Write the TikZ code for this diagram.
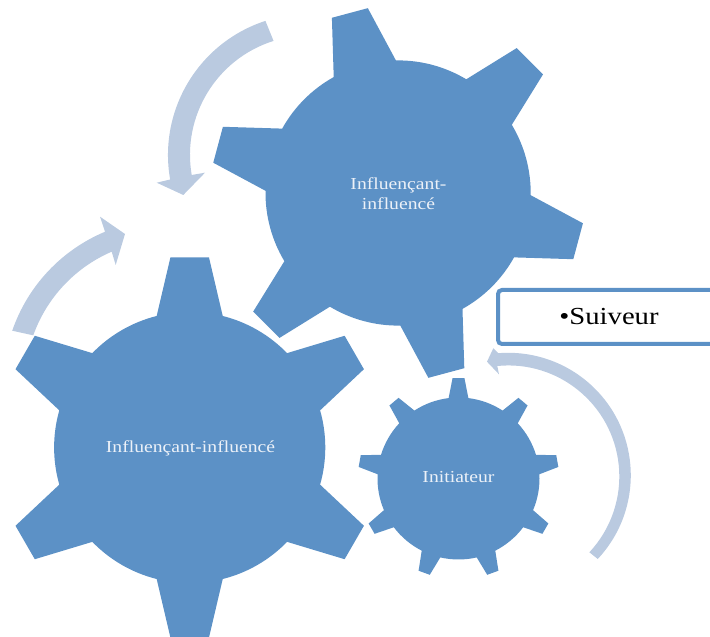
\documentclass[tikz,border=0pt]{standalone}
\usepackage{fontspec}
\setmainfont{Liberation Serif}
\newfontfamily\widefont[FakeStretch=1.17]{Liberation Serif}
\definecolor{gearblue}{RGB}{92,145,198}
\definecolor{arrowblue}{RGB}{186,202,224}
\definecolor{geartext}{RGB}{236,241,248}
\tikzset{
  gearfill/.style={fill=gearblue,draw=none},
  arrowfill/.style={fill=arrowblue,draw=none},
  geartextstyle/.style={text=geartext,font=\widefont\fontsize{16.8}{19.5}\selectfont,align=center,inner sep=0pt},
  boxstyle/.style={draw=gearblue,line width=4pt,fill=white,rounded corners=4pt,inner sep=0pt,minimum width=240pt,minimum height=54pt},
  boxtext/.style={text=black,font=\widefont\fontsize{24.5}{28}\selectfont,inner sep=0pt}
}
% centre x, centre y, teeth, first tooth angle, root half angle, tip half angle, root radius, tip radius
\newcommand{\gearshape}[8]{%
  \fill[gearfill,shift={(#1pt,#2pt)}] ({#4-#5}:#7pt)
    \foreach \i [evaluate=\i as \t using {#4+(\i-1)*360/#3}] in {1,...,#3} {
      -- ({\t-#6}:#8pt) -- ({\t+#6}:#8pt) -- ({\t+#5}:#7pt)
      arc[start angle={\t+#5},end angle={\t+360/#3-#5},radius=#7pt]
    } -- cycle;
}
\begin{document}
\begin{tikzpicture}[x=1pt,y=1pt]
\useasboundingbox (0,0) rectangle (710,637);
\clip (0,0) rectangle (710,637);
% arrows
\fill[arrowfill] ([shift={(309,482)}]108:141pt) arc[start angle=108,end angle=190,radius=141pt]
  -- (156.7,454.3) -- (183.3,442) -- (205,464.3) -- (191.7,462)
  arc[start angle=189.7,end angle=107.5,radius=119.5pt] -- cycle;
\fill[arrowfill] ([shift={(169,252.3)}]161:165.8pt) arc[start angle=161,end angle=112.7,radius=165.8pt]
  -- (100,420.3) -- (125,403) -- (115.7,372) -- (111.7,385.3)
  arc[start angle=113.3,end angle=160.4,radius=143.5pt] -- cycle;
\fill[arrowfill] ([shift={(508.3,161.7)}]-43.1:122.5pt) arc[start angle=-43.1,end angle=94.7,radius=122.5pt]
  -- (493.3,288.7) -- (487,275.3) -- (499,262.7) -- (497.3,271)
  arc[start angle=95.7,end angle=-43.1,radius=111pt] -- cycle;
% gears
\gearshape{189.7}{189.5}{6}{90}{14.1}{5.8}{135.6}{191}
\gearshape{398.1}{444}{6}{105}{14.05}{5.7}{132.6}{187.3}
\gearshape{458.5}{158.5}{9}{90}{7}{3.4}{81}{100.5}
% labels
\node[geartextstyle] (big) at (190.5,188.5) {Influençant-influencé};
\node[geartextstyle] (mid) at (398.5,443.5) {Influençant-\\influencé};
\node[geartextstyle] (small) at (458.5,160) {Initiateur};
\node[boxstyle] (box) at (618,320) {};
\node[boxtext] (boxlabel) at (609,320.5) {•Suiveur};
\end{tikzpicture}
\end{document}
